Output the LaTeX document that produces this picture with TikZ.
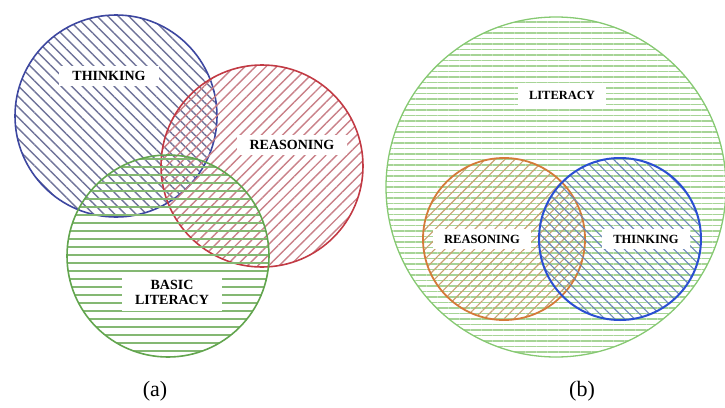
\documentclass[tikz,border=0pt]{standalone}
\usepackage{fontspec}
\setmainfont{Liberation Serif}
\usepackage{tikz}
\usetikzlibrary{patterns.meta}
\definecolor{ThinkBlue}{HTML}{3D47A0}
\definecolor{ThinkHatch}{HTML}{6F7399}
\definecolor{ReasonRed}{HTML}{C23A44}
\definecolor{ReasonHatch}{HTML}{C98088}
\definecolor{LitGreen}{HTML}{62A54E}
\definecolor{LitHatch}{HTML}{84B873}
\definecolor{BigGreen}{HTML}{86C972}
\definecolor{BigHatch}{HTML}{A6D496}
\definecolor{ReasonOrange}{HTML}{D47A38}
\definecolor{OrangeHatch}{HTML}{C9A070}
\definecolor{ThinkBlueB}{HTML}{2A4FD2}
\definecolor{BlueHatchB}{HTML}{6A86B8}

\begin{document}
\begin{tikzpicture}[
  x=1pt,y=-1pt,
  venn/.style={circle,inner sep=0pt,line width=1.6pt},
  tag/.style={fill=white,inner xsep=13pt,inner ysep=5pt,align=center,font=\bfseries\fontsize{14}{15}\selectfont},
  tagb/.style={tag,inner xsep=11pt,inner ysep=6pt,font=\bfseries\fontsize{12.5}{13}\selectfont},
  caption/.style={font=\fontsize{22}{24}\selectfont}
]
\useasboundingbox (0,0) rectangle (725,407);
% (a)
\node[venn,minimum size=202pt,draw=ThinkBlue,pattern={Lines[angle=-45,distance=7.5pt,line width=1.4pt]},pattern color=ThinkHatch] (thinkA) at (116,116) {};
\node[venn,minimum size=202pt,draw=ReasonRed,pattern={Lines[angle=45,distance=7.5pt,line width=1.4pt]},pattern color=ReasonHatch] (reasonA) at (262,166) {};
\node[venn,minimum size=202pt,draw=LitGreen,pattern={Lines[angle=0,distance=8pt,line width=1.8pt]},pattern color=LitHatch] (litA) at (168,256) {};
\node[tag] (thinkAtag) at (109,76) {THINKING};
\node[tag] (reasonAtag) at (292,145) {REASONING};
\node[tag,inner ysep=7pt] (litAtag) at (172,292) {BASIC\\LITERACY};
\node[caption] (capA) at (155,391) {(a)};
% (b)
\node[venn,minimum size=340pt,draw=BigGreen,line width=1.3pt,pattern={Lines[angle=0,distance=5.5pt,line width=1.3pt]},pattern color=BigHatch] (litB) at (556,187) {};
\node[venn,minimum size=162pt,draw=ReasonOrange,line width=1.8pt,pattern={Lines[angle=45,distance=7pt,line width=1.1pt]},pattern color=OrangeHatch] (reasonB) at (504,239) {};
\node[venn,minimum size=162pt,draw=ThinkBlueB,line width=2pt,pattern={Lines[angle=-45,distance=7pt,line width=1.1pt]},pattern color=BlueHatchB] (thinkB) at (620,239) {};
\node[tagb] (litBtag) at (562,95) {LITERACY};
\node[tagb] (reasonBtag) at (482,239) {REASONING};
\node[tagb] (thinkBtag) at (646,239) {THINKING};
\node[caption] (capB) at (582,391) {(b)};
\end{tikzpicture}
\end{document}
